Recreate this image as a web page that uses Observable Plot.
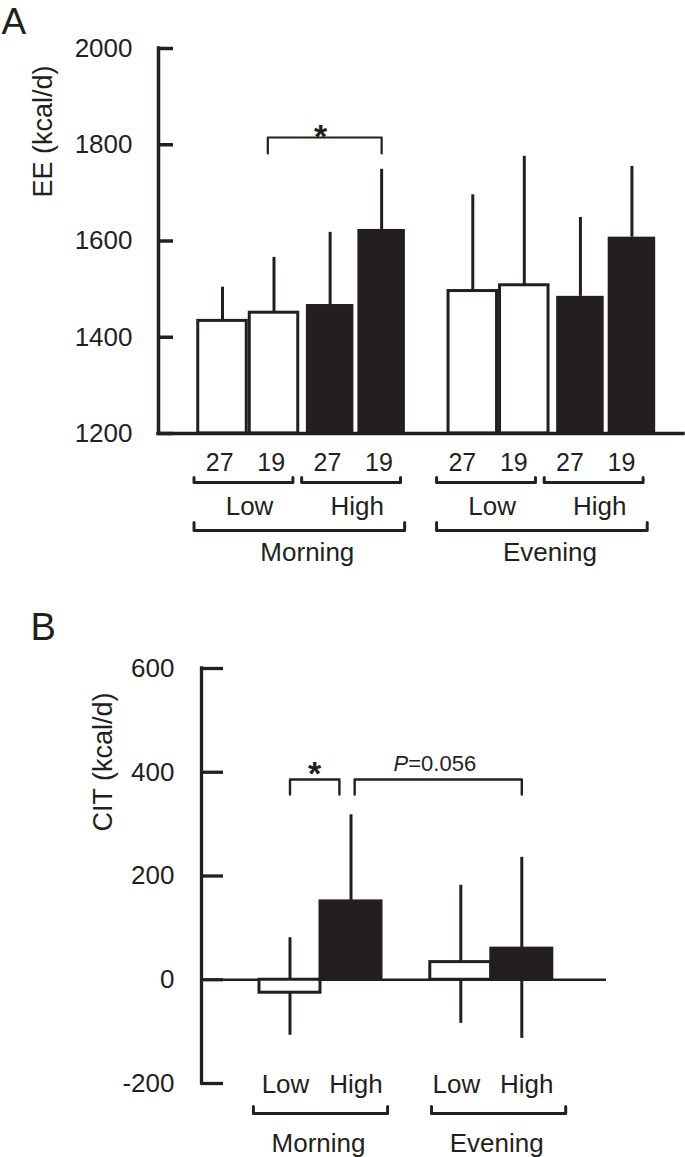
<!DOCTYPE html>
<html>
<head>
<meta charset="utf-8">
<script src="https://cdn.jsdelivr.net/npm/d3@7"></script>
<script src="https://cdn.jsdelivr.net/npm/@observablehq/plot@0.6"></script>
<style>
  body { margin: 0; background: #fff; }
  #wrap { position: relative; width: 685px; height: 1157px; overflow: hidden; }
  #a, #b { position: absolute; left: 0; }
  #a { top: 0; }
  #b { top: 580px; }
  svg { display: block; }
</style>
</head>
<body>
<div id="wrap"><div id="a"></div><div id="b"></div></div>
<script>
// ---------------- DATA ----------------
const sessions = ["Morning", "Evening"];
const intakes = ["Low", "High"];
const temps = ["27", "19"];

// Panel A: EE (kcal/d); order Morning-Low-27, Morning-Low-19, Morning-High-27, Morning-High-19, Evening-...
const eeMean  = [1434, 1451, 1468, 1624, 1496, 1508, 1485, 1608];
const eeUpper = [1504, 1566, 1618, 1749, 1696, 1776, 1649, 1755];
const eeTicks = [1200, 1400, 1600, 1800, 2000];
const eeLabel = "EE (kcal/d)";
const eeSigText = ["*"];

// Panel B: CIT (kcal/d); order Morning-Low, Morning-High, Evening-Low, Evening-High
const citMean  = [-25, 151, 34, 60];
const citUpper = [81, 318, 182, 236];
const citLower = [-107, null, -84, -113];
const citTicks = [-200, 0, 200, 400, 600];
const citLabel = "CIT (kcal/d)";
const citStarText = ["*"];
const citPText = ["P", "=0.056"];

const panelLetters = ["A", "B"];

// ---------------- LAYOUT ----------------
const ink = "#231f20";
const font = "'Liberation Sans', Arial, Helvetica, sans-serif";
const W = 685;
const baseStyle = {fontFamily: font, fontSize: "26px", color: ink, background: "white", overflow: "visible"};

// ----- Panel A -----
const A = {h: 580, top: 48, bottom: 433, left: 158, right: 683, x0: 222, unit: 51.5};
const posA = (si, ni, ti) => si * 4.86 + ni * 2.09 + ti;
const lposA = (si, ni, ti) => posA(si, ni, ti) - 0.053 - si * 0.15;
const yDomA = [eeTicks[0], eeTicks[eeTicks.length - 1]];
const vA = px => yDomA[0] + (A.bottom - px) * (yDomA[1] - yDomA[0]) / (A.bottom - A.top);
const xminA = (A.left - A.x0) / A.unit;
const xmaxA = (A.right - A.x0) / A.unit;

const rowsA = [];
sessions.forEach((s, si) => intakes.forEach((n, ni) => temps.forEach((t, ti) => {
  const k = rowsA.length;
  rowsA.push({session: s, intake: n, temp: t, si, ni, ti, mean: eeMean[k], upper: eeUpper[k],
              x: posA(si, ni, ti), lx: lposA(si, ni, ti)});
})));

function bracket(id, x1, x2, yBase, yTip) {
  return [{id, x: x1, y: yTip}, {id, x: x1, y: yBase}, {id, x: x2, y: yBase}, {id, x: x2, y: yTip}];
}

// group label brackets (panel A)
const lvl1A = [], lvl1TextA = [], lvl2A = [], lvl2TextA = [];
sessions.forEach((s, si) => {
  intakes.forEach((n, ni) => {
    const a = lposA(si, ni, 0), b = lposA(si, ni, 1);
    lvl1A.push(...bracket(`${s}-${n}`, a - 0.5, b + 0.42, vA(482), vA(477)));
    lvl1TextA.push({text: n, x: (a + b) / 2});
  });
  const a = lposA(si, 0, 0), b = lposA(si, 1, 1);
  lvl2A.push(...bracket(s, a - 0.5, b + 0.5, vA(530), vA(522)));
  lvl2TextA.push({text: s, x: (a + b) / 2});
});
// significance bracket (Morning Low 19 vs Morning High 19)
const sigA1 = posA(0, 0, 1) - 0.12, sigA2 = posA(0, 1, 1);
const sigBracketA = bracket("sig", sigA1, sigA2, vA(137), vA(153));

const plotA = Plot.plot({
  width: W, height: A.h,
  marginTop: A.top, marginBottom: A.h - A.bottom, marginLeft: A.left, marginRight: W - A.right,
  x: {domain: [xminA, xmaxA], axis: null},
  y: {domain: yDomA, axis: null},
  style: baseStyle,
  marks: [
    Plot.ruleX(rowsA, {x: "x", y1: "mean", y2: "upper", stroke: ink, strokeWidth: 3}),
    Plot.rect(rowsA.filter(d => d.intake === "Low"), {x1: d => d.x - 0.5, x2: d => d.x + 0.5, y1: yDomA[0], y2: "mean",
      fill: "white", stroke: ink, strokeWidth: 3, insetLeft: 1.5, insetRight: 1.5}),
    Plot.rect(rowsA.filter(d => d.intake === "High"), {x1: d => d.x - 0.5, x2: d => d.x + 0.5, y1: yDomA[0], y2: "mean",
      fill: ink, insetLeft: 2, insetRight: 2}),
    Plot.ruleY([yDomA[0]], {stroke: ink, strokeWidth: 3.5, strokeLinecap: "square"}),
    Plot.ruleX([xminA], {y1: yDomA[0], y2: yDomA[1], stroke: ink, strokeWidth: 3.5, strokeLinecap: "square"}),
    Plot.ruleY(eeTicks, {x1: xminA, x2: xminA + 15 / A.unit, stroke: ink, strokeWidth: 3.5}),
    Plot.text(eeTicks, {x: xminA, y: d => d, text: d => String(d), textAnchor: "end", dx: -26, fontSize: 26, fill: ink}),
    Plot.text([eeLabel], {frameAnchor: "left", rotate: -90, dx: -115, dy: -43.5, fontSize: 27, fill: ink}),
    // significance
    Plot.line(sigBracketA, {x: "x", y: "y", z: "id", stroke: ink, strokeWidth: 2.2}),
    Plot.text(eeSigText, {x: () => (sigA1 + sigA2) / 2, y: () => vA(147), text: d => d, lineAnchor: "bottom",
      dx: -4, fontSize: 34, fontWeight: "bold", fill: ink}),
    // x group labels
    Plot.text(rowsA, {x: "lx", y: () => vA(470), text: "temp", lineAnchor: "bottom", fontSize: 25, fill: ink}),
    Plot.line(lvl1A, {x: "x", y: "y", z: "id", stroke: ink, strokeWidth: 3, strokeLinejoin: "round"}),
    Plot.text(lvl1TextA, {x: "x", y: () => vA(514), text: "text", lineAnchor: "bottom", dx: 4, fontSize: 26, fill: ink}),
    Plot.line(lvl2A, {x: "x", y: "y", z: "id", stroke: ink, strokeWidth: 3, strokeLinejoin: "round"}),
    Plot.text(lvl2TextA, {x: "x", y: () => vA(560), text: "text", lineAnchor: "bottom", dx: 8, fontSize: 26, fill: ink}),
    // panel letter
    Plot.text([panelLetters[0]], {frameAnchor: "top-left", dx: 1 - A.left, dy: 7 - A.top, textAnchor: "start",
      lineAnchor: "top", fontSize: 37, fill: ink})
  ]
});
document.getElementById("a").append(plotA);

// ----- Panel B -----
const B = {h: 577, top: 88, bottom: 503, left: 201, right: 606, x0: 289.5, unit: 61};
const posB = (si, ni) => si * 2.8 + ni;
const yDomB = [citTicks[0], citTicks[citTicks.length - 1]];
const vB = px => yDomB[0] + (B.bottom - px) * (yDomB[1] - yDomB[0]) / (B.bottom - B.top);
const xminB = (B.left - B.x0) / B.unit;
const xmaxB = (B.right - B.x0) / B.unit;

const rowsB = [];
sessions.forEach((s, si) => intakes.forEach((n, ni) => {
  const k = rowsB.length;
  rowsB.push({session: s, intake: n, si, ni, mean: citMean[k], upper: citUpper[k], lower: citLower[k], x: posB(si, ni),
              lx: posB(si, ni) + (ni === 0 ? -4.5 : 5) / B.unit});
}));

const lvlB = [], lvlTextB = [];
sessions.forEach((s, si) => {
  const a = posB(si, 0) - 0.6 + si * 0.12, b = posB(si, 1) + 0.6 + si * 0.12;
  lvlB.push(...bracket(s, a, b, vB(533), vB(526)));
  lvlTextB.push({text: s, x: (a + b) / 2});
});
const starB1 = posB(0, 0), starB2 = posB(0, 1) - 0.19;
const pB1 = posB(0, 1) + 0.06, pB2 = posB(1, 1);
const sigB = [...bracket("star", starB1, starB2, vB(199), vB(214)), ...bracket("p", pB1, pB2, vB(199), vB(214))];

const plotB = Plot.plot({
  width: W, height: B.h,
  marginTop: B.top, marginBottom: B.h - B.bottom, marginLeft: B.left, marginRight: W - B.right,
  x: {domain: [xminB, xmaxB], axis: null},
  y: {domain: yDomB, axis: null},
  style: baseStyle,
  marks: [
    Plot.ruleX(rowsB, {x: "x", y1: "mean", y2: "upper", stroke: ink, strokeWidth: 3}),
    Plot.ruleX(rowsB.filter(d => d.lower != null), {x: "x", y1: "lower", y2: "mean", stroke: ink, strokeWidth: 3}),
    Plot.ruleY([0], {stroke: ink, strokeWidth: 2.7}),
    Plot.rect(rowsB.filter(d => d.intake === "Low"), {x1: d => d.x - 0.5, x2: d => d.x + 0.5, y1: 0, y2: "mean",
      fill: "white", stroke: ink, strokeWidth: 3}),
    Plot.rect(rowsB.filter(d => d.intake === "High"), {x1: d => d.x - 0.5, x2: d => d.x + 0.5, y1: 0, y2: "mean",
      fill: ink, stroke: ink, strokeWidth: 3}),
    Plot.ruleX([xminB], {y1: yDomB[0], y2: yDomB[1], stroke: ink, strokeWidth: 3.3, strokeLinecap: "square"}),
    Plot.ruleY(citTicks, {x1: xminB, x2: xminB + 22 / B.unit, stroke: ink, strokeWidth: 3.3}),
    Plot.text(citTicks, {x: xminB, y: d => d, text: d => String(d), textAnchor: "end", dx: -27, fontSize: 26, fill: ink}),
    Plot.text([citLabel], {frameAnchor: "left", rotate: -90, dx: -98, dy: -44.5, fontSize: 27, fill: ink}),
    // significance
    Plot.line(sigB, {x: "x", y: "y", z: "id", stroke: ink, strokeWidth: 2.4}),
    Plot.text(citStarText, {x: () => (starB1 + starB2) / 2, y: () => vB(204), text: d => d, lineAnchor: "bottom",
      fontSize: 34, fontWeight: "bold", fill: ink}),
    Plot.text([citPText[0]], {x: () => (pB1 + pB2) / 2, y: () => vB(190), text: d => d, lineAnchor: "bottom",
      textAnchor: "end", dx: -30, fontSize: 22, fontStyle: "italic", fill: ink}),
    Plot.text([citPText[1]], {x: () => (pB1 + pB2) / 2, y: () => vB(190), text: d => d, lineAnchor: "bottom",
      textAnchor: "start", dx: -30, fontSize: 22, fill: ink}),
    // x labels
    Plot.text(rowsB, {x: "lx", y: () => vB(512), text: "intake", lineAnchor: "bottom", fontSize: 26, fill: ink}),
    Plot.line(lvlB, {x: "x", y: "y", z: "id", stroke: ink, strokeWidth: 3, strokeLinejoin: "round"}),
    Plot.text(lvlTextB, {x: "x", y: () => vB(571), text: "text", lineAnchor: "bottom", dx: -2, fontSize: 26, fill: ink}),
    // panel letter
    Plot.text([panelLetters[1]], {frameAnchor: "top-left", dx: 30 - B.left, dy: 33 - B.top, textAnchor: "start",
      lineAnchor: "top", fontSize: 38, fill: ink})
  ]
});
document.getElementById("b").append(plotB);
</script>
</body>
</html>
